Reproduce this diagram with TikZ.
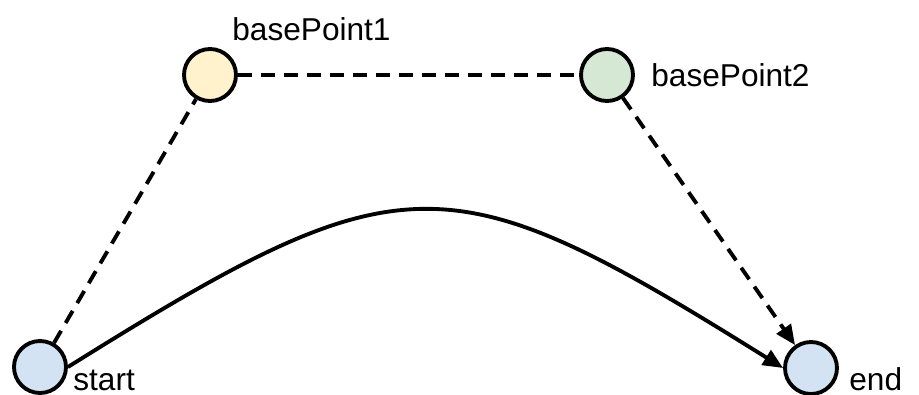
\documentclass[tikz,border=0pt]{standalone}
\usepackage{fontspec}
\setmainfont{Liberation Sans}
\usetikzlibrary{arrows.meta}
\definecolor{ptblue}{HTML}{D4E3F3}
\definecolor{ptyellow}{HTML}{FFF2CC}
\definecolor{ptgreen}{HTML}{D5E8D4}
\tikzset{
  pt/.style={circle, draw=black, line width=2.2pt, minimum size=1.04cm, inner sep=0pt},
  lbl/.style={anchor=base west, inner sep=0pt, font=\fontsize{18}{22}\selectfont},
  dsh/.style={line width=2.2pt, dash pattern=on 0.28cm off 0.18cm},
  tip/.style={-{Triangle[length=0.4cm,width=0.34cm]}}
}
\begin{document}
\begin{tikzpicture}[x=0.02cm, y=-0.02cm]
		%%%%% START %%%%%
		\useasboundingbox (0, 0) rectangle (919, 395);
		
		\node[pt, fill=ptblue] (start) at (40, 367) {};
		\node[pt, fill=ptyellow] (base1) at (210, 75) {};
		\node[pt, fill=ptgreen] (base2) at (607, 75) {};
		\node[pt, fill=ptblue] (end) at (811, 368) {};
		
		\node[lbl] (startlbl) at (73, 390) {start};
		\node[lbl] (base1lbl) at (232, 41) {basePoint1};
		\node[lbl] (base2lbl) at (651, 87) {basePoint2};
		\node[lbl] (endlbl) at (849, 390) {end};
		
		\draw[dsh] (start) -- (base1);
		\draw[dsh] (base1) -- (base2);
		\draw[dsh, tip] (base2) -- (end);
		
		\draw[line width=2.2pt, tip] (start.east) to[out=32, in=148, looseness=1.42] (end.west);
		%%%%% END %%%%%
\end{tikzpicture}
\end{document}
